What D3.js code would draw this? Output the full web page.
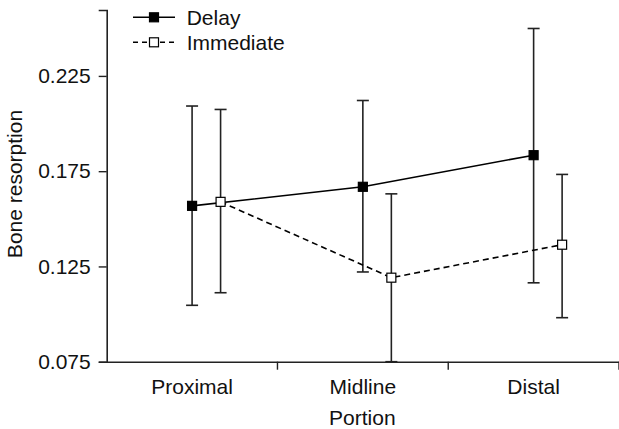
<!DOCTYPE html>
<html>
<head>
<meta charset="utf-8">
<script src="https://cdn.jsdelivr.net/npm/d3@7"></script>
<style>
  body { margin: 0; background: #fff; }
  text { font-family: Arial, "Liberation Sans", sans-serif; fill: #111; }
</style>
</head>
<body>
<div class="canvas"></div>
<script>
// data
const portions = ['Proximal', 'Midline', 'Distal'];
const yTicks = [0.075, 0.125, 0.175, 0.225];

const delayMean = [0.1568, 0.1668, 0.1834];
const delayHigh = [0.2092, 0.2121, 0.2499];
const delayLow  = [0.1046, 0.1221, 0.1164];

const immMean = [0.1589, 0.1191, 0.1364];
const immHigh = [0.2074, 0.1631, 0.1733];
const immLow  = [0.1112, 0.075, 0.0981];

const series = [
  { name: 'Delay', mean: delayMean, high: delayHigh, low: delayLow, offset: 0, dash: null, fill: '#000' },
  { name: 'Immediate', mean: immMean, high: immHigh, low: immLow, offset: 28.5, dash: '6,4', fill: '#fff' }
];

const width = 619, height = 429;
const margin = { top: 10, right: 0, bottom: 67.3, left: 106.7 };

const svg = d3.select('.canvas')
  .append('svg')
  .attr('width', width)
  .attr('height', height);

const graphWidth = width - margin.left - margin.right;
const graphHeight = height - margin.top - margin.bottom;

const graph = svg.append('g')
  .attr('transform', `translate(${margin.left}, ${margin.top})`);

const x = d3.scaleBand()
  .domain(portions)
  .range([0, graphWidth])
  .padding(0);

const y = d3.scaleLinear()
  .domain([0.075, 0.2596])
  .range([graphHeight, 0]);

// axes
const xAxisGroup = graph.append('g')
  .attr('transform', `translate(0, ${graphHeight})`)
  .call(d3.axisBottom(x).tickSize(0).tickPadding(17));

// ticks between the categories
xAxisGroup.selectAll('.sep')
  .data(portions)
  .enter()
  .append('line')
    .attr('x1', d => x(d) + x.bandwidth())
    .attr('x2', d => x(d) + x.bandwidth())
    .attr('y1', 0)
    .attr('y2', 8)
    .attr('stroke', '#222')
    .attr('stroke-width', 1.4);

const yAxisGroup = graph.append('g')
  .call(d3.axisLeft(y).tickValues(yTicks).tickFormat(d3.format('.3f')).tickSize(8).tickPadding(8));

[xAxisGroup, yAxisGroup].forEach(g => {
  g.select('.domain').attr('stroke', '#222').attr('stroke-width', 1.6);
  g.selectAll('.tick line').attr('stroke', '#222').attr('stroke-width', 1.4);
  g.selectAll('text').style('font-size', '21px').attr('fill', '#111');
});

// axis titles
svg.append('text')
  .attr('x', margin.left + graphWidth / 2 - 0.5)
  .attr('y', 425)
  .attr('text-anchor', 'middle')
  .style('font-size', '21px')
  .text('Portion');

svg.append('text')
  .attr('transform', 'translate(21.7, 184) rotate(-90)')
  .attr('text-anchor', 'middle')
  .style('font-size', '21px')
  .text('Bone resorption');

const cx = (s, i) => x(portions[i]) + x.bandwidth() / 2 + s.offset;

series.forEach(s => {
  const g = graph.append('g');
  const idx = d3.range(portions.length);

  // error bars
  g.selectAll('.bar')
    .data(idx)
    .enter()
    .append('line')
      .attr('x1', i => cx(s, i))
      .attr('x2', i => cx(s, i))
      .attr('y1', i => y(s.low[i]))
      .attr('y2', i => y(s.high[i]))
      .attr('stroke', '#222')
      .attr('stroke-width', 1.6);

  ['high', 'low'].forEach(k => {
    g.selectAll('.cap-' + k)
      .data(idx)
      .enter()
      .append('line')
        .attr('x1', i => cx(s, i) - 6)
        .attr('x2', i => cx(s, i) + 6)
        .attr('y1', i => y(s[k][i]))
        .attr('y2', i => y(s[k][i]))
        .attr('stroke', '#222')
        .attr('stroke-width', 1.6);
  });

  // connecting line
  const line = d3.line()
    .x(i => cx(s, i))
    .y(i => y(s.mean[i]));

  g.append('path')
    .attr('d', line(idx))
    .attr('fill', 'none')
    .attr('stroke', '#000')
    .attr('stroke-width', 1.6)
    .attr('stroke-dasharray', s.dash);

  // markers
  g.selectAll('rect')
    .data(idx)
    .enter()
    .append('rect')
      .attr('x', i => cx(s, i) - 4.5)
      .attr('y', i => y(s.mean[i]) - 4.5)
      .attr('width', 9)
      .attr('height', 9)
      .attr('fill', s.fill)
      .attr('stroke', '#000')
      .attr('stroke-width', 1.2);
});

// legend
const legend = svg.append('g');
series.forEach((s, i) => {
  const ly = 17.3 + i * 25;
  legend.append('line')
    .attr('x1', 133).attr('x2', 175)
    .attr('y1', ly).attr('y2', ly)
    .attr('stroke', '#000')
    .attr('stroke-width', 1.6)
    .attr('stroke-dasharray', s.dash ? '5,4' : null);
  legend.append('rect')
    .attr('x', 154 - 4.5).attr('y', ly - 4.5)
    .attr('width', 9).attr('height', 9)
    .attr('fill', s.fill)
    .attr('stroke', '#000')
    .attr('stroke-width', 1.2);
  legend.append('text')
    .attr('x', 186.7)
    .attr('y', ly + 7.5)
    .style('font-size', '21px')
    .text(s.name);
});
</script>
</body>
</html>
